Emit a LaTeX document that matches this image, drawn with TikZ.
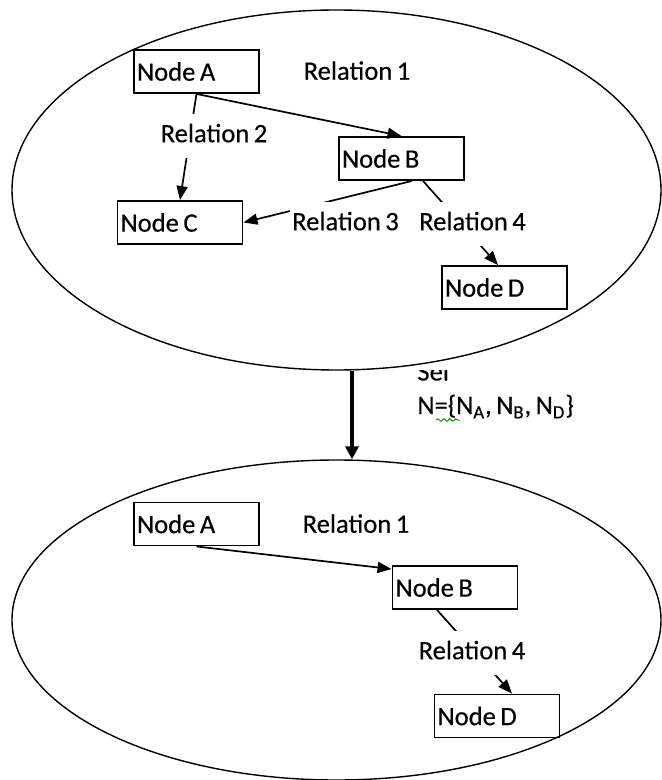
\documentclass[tikz,border=0pt]{standalone}
\usepackage{fontspec}
\setmainfont{Carlito}[WordSpace=0.75, FakeBold=0.4]
\usetikzlibrary{shapes.geometric,arrows.meta,decorations.pathmorphing}
\newcommand\diagfont{\fontsize{13.3}{16}\selectfont}
\begin{document}
\begin{tikzpicture}[x=0.5pt,y=-0.5pt,
  every node/.style={font=\diagfont, text=black},
  set/.style={ellipse, draw, line width=0.7pt, inner sep=0pt, fill=white},
  box/.style={draw, line width=0.95pt, minimum height=21.5pt, text width=59.5pt,
              inner xsep=1.5pt, inner ysep=0pt, align=flush left},
  rel/.style={fill=white, inner xsep=1pt, inner ysep=0pt, minimum height=22pt, text depth=3pt},
  link/.style={line width=0.85pt, -{Triangle[length=7pt,width=5.5pt]}},
  select/.style={line width=1.6pt, -{Triangle[length=6.5pt,width=6.5pt]}}
]
\useasboundingbox (0,0) rectangle (661,780);

% selection condition; the first line is cut off by the rim of the upper set
\begin{scope}
  \clip (400,370) rectangle (480,395);
  \node[anchor=base west, inner sep=0pt] (sel) at (417,380.5) {Sel};
\end{scope}
\node[anchor=base west, inner sep=0pt] (cond) at (417,414)
  {N=\{N\textsubscript{A}, N\textsubscript{B}, N\textsubscript{D}\}};
\draw[green!60!black, line width=0.5pt, decorate,
      decoration={snake, segment length=3pt, amplitude=0.6pt}] (436,420) -- (460,420);

% the two sets
\node[set, minimum width=324.5pt, minimum height=180pt] (top) at (336.5,190) {};
\node[set, minimum width=324.5pt, minimum height=160pt] (bot) at (336.5,620) {};

% upper graph
\node[box] (a) at (196.5,71.5) {Node A};
\node[box] (b) at (401.5,158.5) {Node B};
\node[box] (c) at (180,222.5) {Node C};
\node[box] (d) at (504.5,287.5) {Node D};

\draw[link] (a.south) -- (b.north);
\draw[link] (a.south) -- (c.north);
\draw[link] ([xshift=5.25pt]b.south) -- (c.east);
\draw[link] ([xshift=10.75pt]b.south) -- ([xshift=-3.25pt]d.north);

\node[rel] (r1) at (357,73.5) {Relation 1};
\node[rel] (r2) at (214,136) {Relation 2};
\node[rel] (r3) at (345.5,224) {Relation 3};
\node[rel] (r4) at (472.5,224) {Relation 4};

% selection step
\draw[select] ([xshift=7.75pt]top.south) -- ([xshift=7.75pt]bot.north);

% lower graph
\node[box] (a2) at (196.5,524) {Node A};
\node[box] (b2) at (455,587.5) {Node B};
\node[box] (d2) at (497,716) {Node D};

\draw[link] (a2.south) -- ([yshift=-2pt]b2.north west);
\draw[link] ([xshift=-9pt]b2.south) -- ([xshift=7.5pt]d2.north);

\node[rel] (s1) at (356,526.5) {Relation 1};
\node[rel] (s4) at (472,653) {Relation 4};
\end{tikzpicture}
\end{document}
